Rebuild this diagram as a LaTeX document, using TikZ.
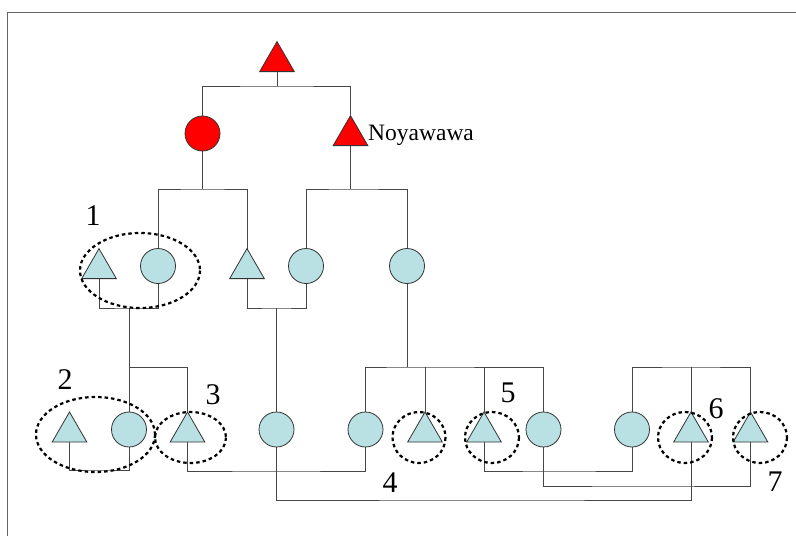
\documentclass[tikz,border=0pt]{standalone}
\usepackage{fontspec}
\setmainfont{Liberation Serif}
\usetikzlibrary{shapes.geometric}
\definecolor{mint}{RGB}{185,224,227}
\definecolor{linegray}{RGB}{70,70,70}
\tikzset{
  tri/.style={regular polygon, regular polygon sides=3, minimum size=40pt, inner sep=0pt, outer sep=0pt, draw=black!80, line width=0.8pt, fill=mint},
  circ/.style={circle, minimum size=35pt, inner sep=0pt, outer sep=0pt, draw=black!80, line width=0.8pt, fill=mint},
  redtri/.style={tri, fill=red},
  redcirc/.style={circ, fill=red},
  conn/.style={draw=linegray, line width=0.9pt},
  grp/.style={draw=black, line width=2.2pt, dash pattern=on 3.5pt off 3pt},
  num/.style={font=\fontsize{30}{30}\selectfont, inner sep=0pt},
}
\begin{document}
\begin{tikzpicture}[x=1pt,y=-1pt]
\useasboundingbox (0,0) rectangle (796,536);
\draw[draw=black!60, line width=1pt] (7.5,536) -- (7.5,12) -- (796,12);
% top generation
\node[redtri] (rt) at (277,61.6) {};
\node[redcirc] (rc) at (202.5,133.5) {};
\node[redtri] (nt) at (350.5,135.6) {};
\node[anchor=base west, inner sep=0pt, font=\fontsize{23.5}{24}\selectfont] (lab) at (368,140) {Noyawawa};
% second row
\node[tri] (t1) at (99,268.6) {};
\node[circ] (c1) at (158,266) {};
\node[tri] (t2) at (247,268.6) {};
\node[circ] (c2) at (306,266) {};
\node[circ] (c3) at (407,266) {};
% third row
\node[tri] (ta) at (69.5,432) {};
\node[circ] (cb) at (129,429.5) {};
\node[tri] (tc) at (187.5,432) {};
\node[circ] (cd) at (276.5,429.5) {};
\node[circ] (ce) at (365.5,429.5) {};
\node[tri] (tf) at (425,432) {};
\node[tri] (tg) at (484,432) {};
\node[circ] (ch) at (543.5,429.5) {};
\node[circ] (ci) at (632,429.5) {};
\node[tri] (tj) at (691,432) {};
\node[tri] (tk) at (750.5,432) {};
% junctions
\coordinate (j0) at (277,86);
\coordinate (j1) at (202.5,189);
\coordinate (j2) at (350.5,189);
\coordinate (j3) at (129,308);
\coordinate (j4) at (129,367);
\coordinate (j5) at (276.5,308);
\coordinate (j6) at (407,367);
\coordinate (j7) at (691,367);
\coordinate (j8) at (99,470);
\coordinate (j9) at (276,471);
\coordinate (j10) at (480,500);
\coordinate (j11) at (560,471);
\coordinate (j12) at (640,486);
% connectors
\draw[conn] (rt.south) -- (j0);
\draw[conn] (rc.north) |- (j0) -| (nt.north);
\draw[conn] (rc.south) -- (j1);
\draw[conn] (c1.north) |- (j1) -| (t2.north);
\draw[conn] (nt.south) -- (j2);
\draw[conn] (c2.north) |- (j2) -| (c3.north);
\draw[conn] (t1.south) |- (j3) -| (c1.south);
\draw[conn] (j3) -- (cb.north);
\draw[conn] (j4) -| (tc.north);
\draw[conn] (t2.south) |- (j5) -| (c2.south);
\draw[conn] (j5) -- (cd.north);
\draw[conn] (c3.south) -- (j6);
\draw[conn] (ce.north) |- (j6) -| (ch.north);
\draw[conn] (tf.north) -- (tf.north |- j6);
\draw[conn] (tg.north) -- (tg.north |- j6);
\draw[conn] (ci.north) |- (j7) -| (tk.north);
\draw[conn] (tj.north) -- (j7);
\draw[conn] (ta.south) |- (j8) -| (cb.south);
\draw[conn] (tc.south) |- (j9) -| (ce.south);
\draw[conn] (cd.south) |- (j10) -| (tj.south);
\draw[conn] (tg.south) |- (j11) -| (ci.south);
\draw[conn] (ch.south) |- (j12) -| (tk.south);
% dotted groups
\draw[grp] (140,270.5) ellipse [x radius=60, y radius=37.5];
\draw[grp] (95.5,434.5) ellipse [x radius=59.5, y radius=37.5];
\draw[grp] (190.5,437.5) ellipse [x radius=35.5, y radius=25.5];
\draw[grp] (419,437.5) ellipse [x radius=26.5, y radius=25.5];
\draw[grp] (492,437.5) ellipse [x radius=27, y radius=25.5];
\draw[grp] (685,437.5) ellipse [x radius=27, y radius=25.5];
\draw[grp] (760,437.5) ellipse [x radius=27, y radius=25.5];
% group numbers
\node[num] (n1) at (93,216) {1};
\node[num] (n2) at (65,379.5) {2};
\node[num] (n3) at (213,395) {3};
\node[num] (n4) at (390,483) {4};
\node[num] (n5) at (508,393) {5};
\node[num] (n6) at (716,409) {6};
\node[num] (n7) at (775,482) {7};
\end{tikzpicture}
\end{document}
